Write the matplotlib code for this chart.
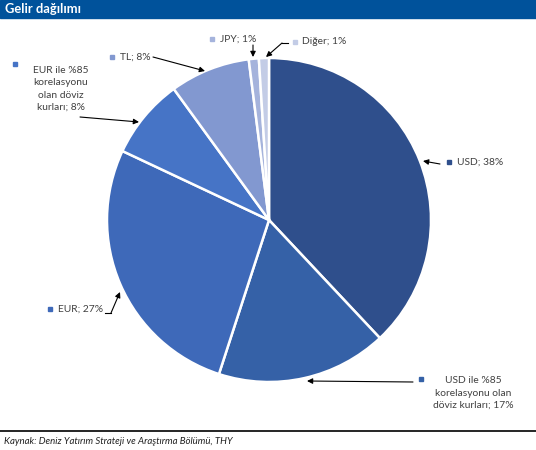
import matplotlib.pyplot as plt
from matplotlib.patches import Rectangle

plt.rcParams['font.family'] = ['Lato', 'DejaVu Sans']

# Gelir dağılımı (para birimi bazında)
labels = ["USD", "USD ile %85\nkorelasyonu olan\ndöviz kurları", "EUR",
          "EUR ile %85\nkorelasyonu\nolan döviz\nkurları", "TL", "JPY", "Diğer"]
shares = [38, 17, 27, 8, 8, 1, 1]
colors = ["#2F4F8C", "#3561A7", "#3E69B9", "#4674C6", "#8298D0", "#A5B3DC", "#C3CCE6"]

W, H = 536, 450
fig = plt.figure(figsize=(W / 100, H / 100), dpi=100)
ax = fig.add_axes([0, 0, 1, 1])

ax.pie(shares, colors=colors, center=(269, 220), radius=162,
       startangle=-90, counterclock=True,
       wedgeprops=dict(edgecolor="white", linewidth=1.8))
ax.set_xlim(0, W)
ax.set_ylim(H, 0)
ax.set_aspect("equal")
ax.axis("off")

# başlık şeridi
ax.add_patch(Rectangle((0, 0), W, 18, color="#00529B", zorder=5))
ax.text(5, 9, "Gelir dağılımı", color="white", fontsize=9.3, fontweight="bold",
        va="center", ha="left", zorder=6)

# etiketler: (kare işaret, metin konumu, hizalama, ok başlangıcı, ok ucu)
label_layout = [
    ((449, 162), (457, 162), "left", [(440, 164), (423, 161)]),
    ((421, 379), (473, 393), "center", [(413, 382), (307, 381)]),
    ((50, 309), (58, 309), "left", [(105, 313), (111, 313), (120, 292)]),
    ((15, 64), (61, 89), "center", [(80, 117), (139, 122)]),
    ((112, 57), (120, 57), "left", [(153, 57), (205, 71)]),
    ((212, 39), (220, 39), "left", [(253, 45), (253, 57)]),
    ((295, 42), (302, 42), "left", [(288, 43), (282, 43), (266, 57)]),
]

for lab, pct, col, (mk, tp, ha, path) in zip(labels, shares, colors, label_layout):
    ax.plot(*mk, marker="s", markersize=3.2, color=col, zorder=4)
    ax.text(tp[0], tp[1], f"{lab}; {pct}%", fontsize=7.4, color="#404040",
            ha=ha, va="center", linespacing=1.45, multialignment="center")
    if len(path) > 2:
        xs = [p[0] for p in path[:-1]]
        ys = [p[1] for p in path[:-1]]
        ax.plot(xs, ys, color="black", linewidth=0.8)
    ax.annotate("", xy=path[-1], xytext=path[-2],
                arrowprops=dict(arrowstyle="-|>", color="black", lw=0.8,
                                mutation_scale=8, shrinkA=0, shrinkB=0))

# kaynak notu
ax.plot([0, W], [431, 431], color="black", linewidth=1.2)
ax.text(4, 441, "Kaynak: Deniz Yatırım Strateji ve Araştırma Bölümü, THY",
        fontsize=6.9, style="italic", color="#202020", va="center", ha="left")

fig.savefig("out.png", dpi=100)
